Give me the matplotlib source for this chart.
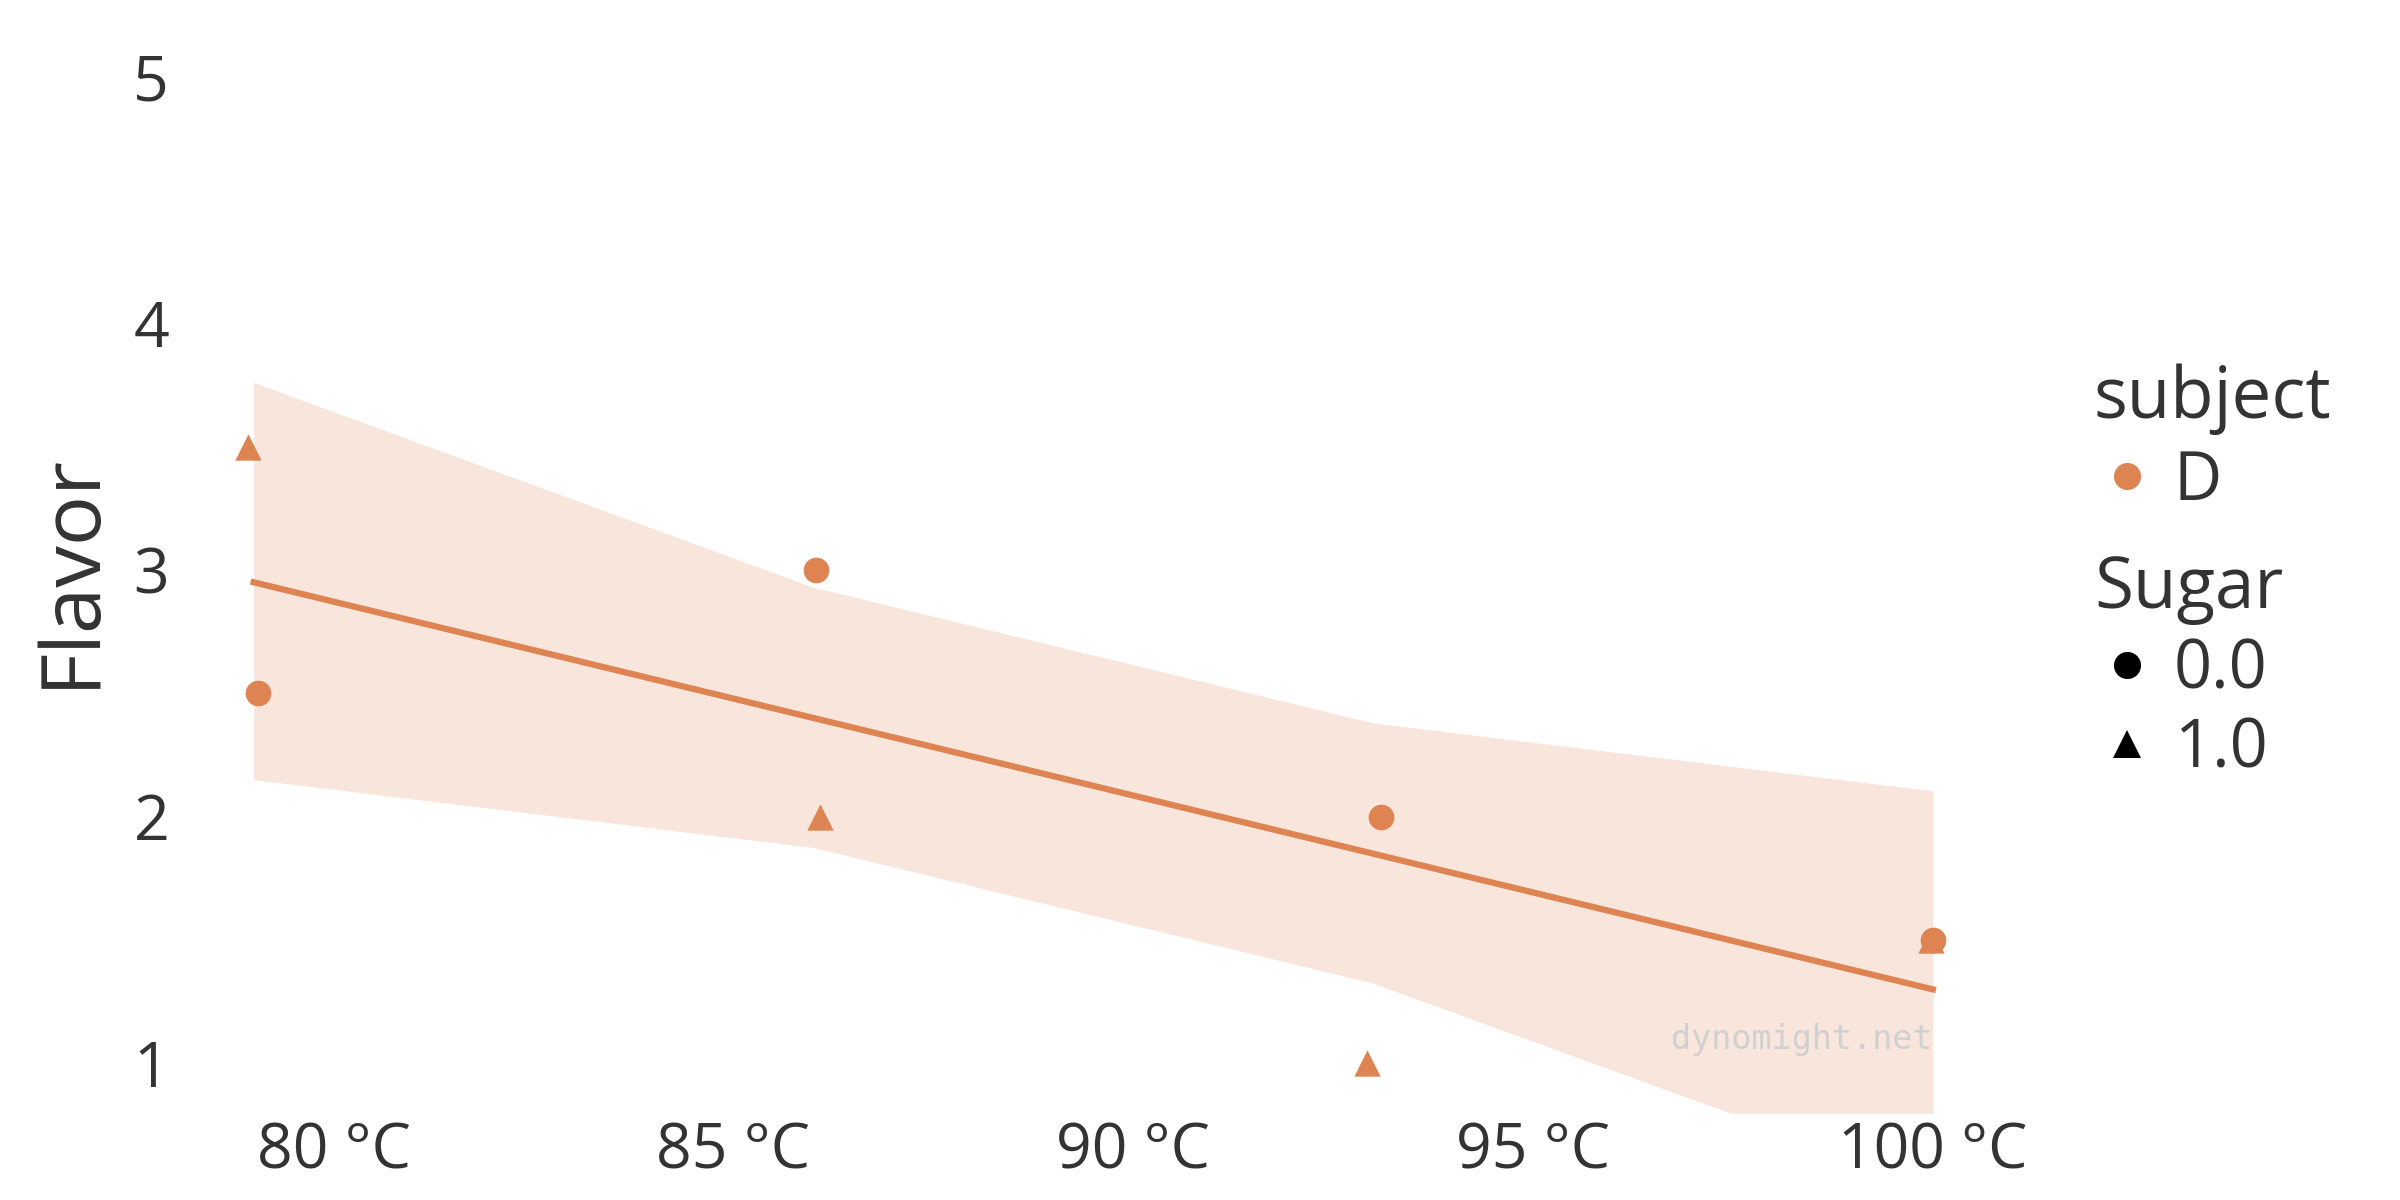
import matplotlib.pyplot as plt
from matplotlib.lines import Line2D

ORANGE = "#DD8452"
TEXT = "#333333"

# points as drawn (temperatures include the small horizontal jitter)
temp_no_sugar = [79.05, 86.03, 93.1, 100.0]
flavor_no_sugar = [2.5, 3.0, 2.0, 1.5]
temp_sugar = [78.93, 86.08, 92.92, 99.97]
flavor_sugar = [3.5, 2.0, 1.0, 1.5]

# fitted line and its confidence band
fit_temp = [79, 100]
fit_flavor = [2.95, 1.30]
band_temp = [79, 86, 93, 100]
band_low = [2.15, 1.875, 1.325, 0.50]
band_high = [3.76, 2.93, 2.38, 2.105]

xticks = [80, 85, 90, 95, 100]
yticks = [1, 2, 3, 4, 5]

plt.rcParams["font.family"] = ["Open Sans", "DejaVu Sans"]
plt.rcParams["text.color"] = TEXT

fig = plt.figure(figsize=(8, 4), dpi=300)
ax = fig.add_axes([0.0757, 0.0727, 0.763, 0.9047])

ax.fill_between(band_temp, band_low, band_high, color=ORANGE, alpha=0.2,
                linewidth=0, zorder=1)
ax.plot(fit_temp, fit_flavor, color=ORANGE, linewidth=1.5, zorder=2)
ax.scatter(temp_no_sugar, flavor_no_sugar, s=38, marker="o", color=ORANGE,
           linewidths=0, zorder=3)
ax.scatter(temp_sugar, flavor_sugar, s=40, marker="^", color=ORANGE,
           linewidths=0, zorder=3)

ax.text(100, 1.06, "dynomight.net", family="DejaVu Sans Mono", fontsize=8,
        color="#d0d0d0", ha="right", va="baseline", zorder=4)

ax.set_xlim(78.1, 101.0)
ax.set_ylim(0.8, 5.2)
ax.set_xticks(xticks, [f"{t} °C" for t in xticks])
ax.set_yticks(yticks, [str(t) for t in yticks])
ax.tick_params(length=0, labelsize=15, labelcolor=TEXT)
ax.tick_params(axis="x", pad=2)
ax.tick_params(axis="y", pad=3)
ax.set_ylabel("Flavor", fontsize=20, color=TEXT, labelpad=5)
for spine in ax.spines.values():
    spine.set_visible(False)

subject_handles = [Line2D([], [], linestyle="none", marker="o", markersize=6.5,
                          markerfacecolor=ORANGE, markeredgewidth=0)]
sugar_handles = [
    Line2D([], [], linestyle="none", marker="o", markersize=6.5,
           markerfacecolor="black", markeredgewidth=0),
    Line2D([], [], linestyle="none", marker="^", markersize=6.5,
           markerfacecolor="black", markeredgewidth=0),
]

legend_style = dict(frameon=False, fontsize=16, title_fontsize=17,
                    alignment="left", handlelength=1.0, handletextpad=0.2,
                    borderpad=0.2, loc="upper left")
leg1 = fig.legend(subject_handles, ["D"], title="subject",
                  bbox_to_anchor=(0.853, 0.736), labelspacing=0.2,
                  **legend_style)
leg2 = fig.legend(sugar_handles, ["0.0", "1.0"], title="Sugar",
                  bbox_to_anchor=(0.853, 0.578), labelspacing=0.18,
                  **legend_style)
for leg in (leg1, leg2):
    leg.get_title().set_color(TEXT)
    for t in leg.get_texts():
        t.set_color(TEXT)

fig.savefig("out.png", dpi=300, facecolor="white")
